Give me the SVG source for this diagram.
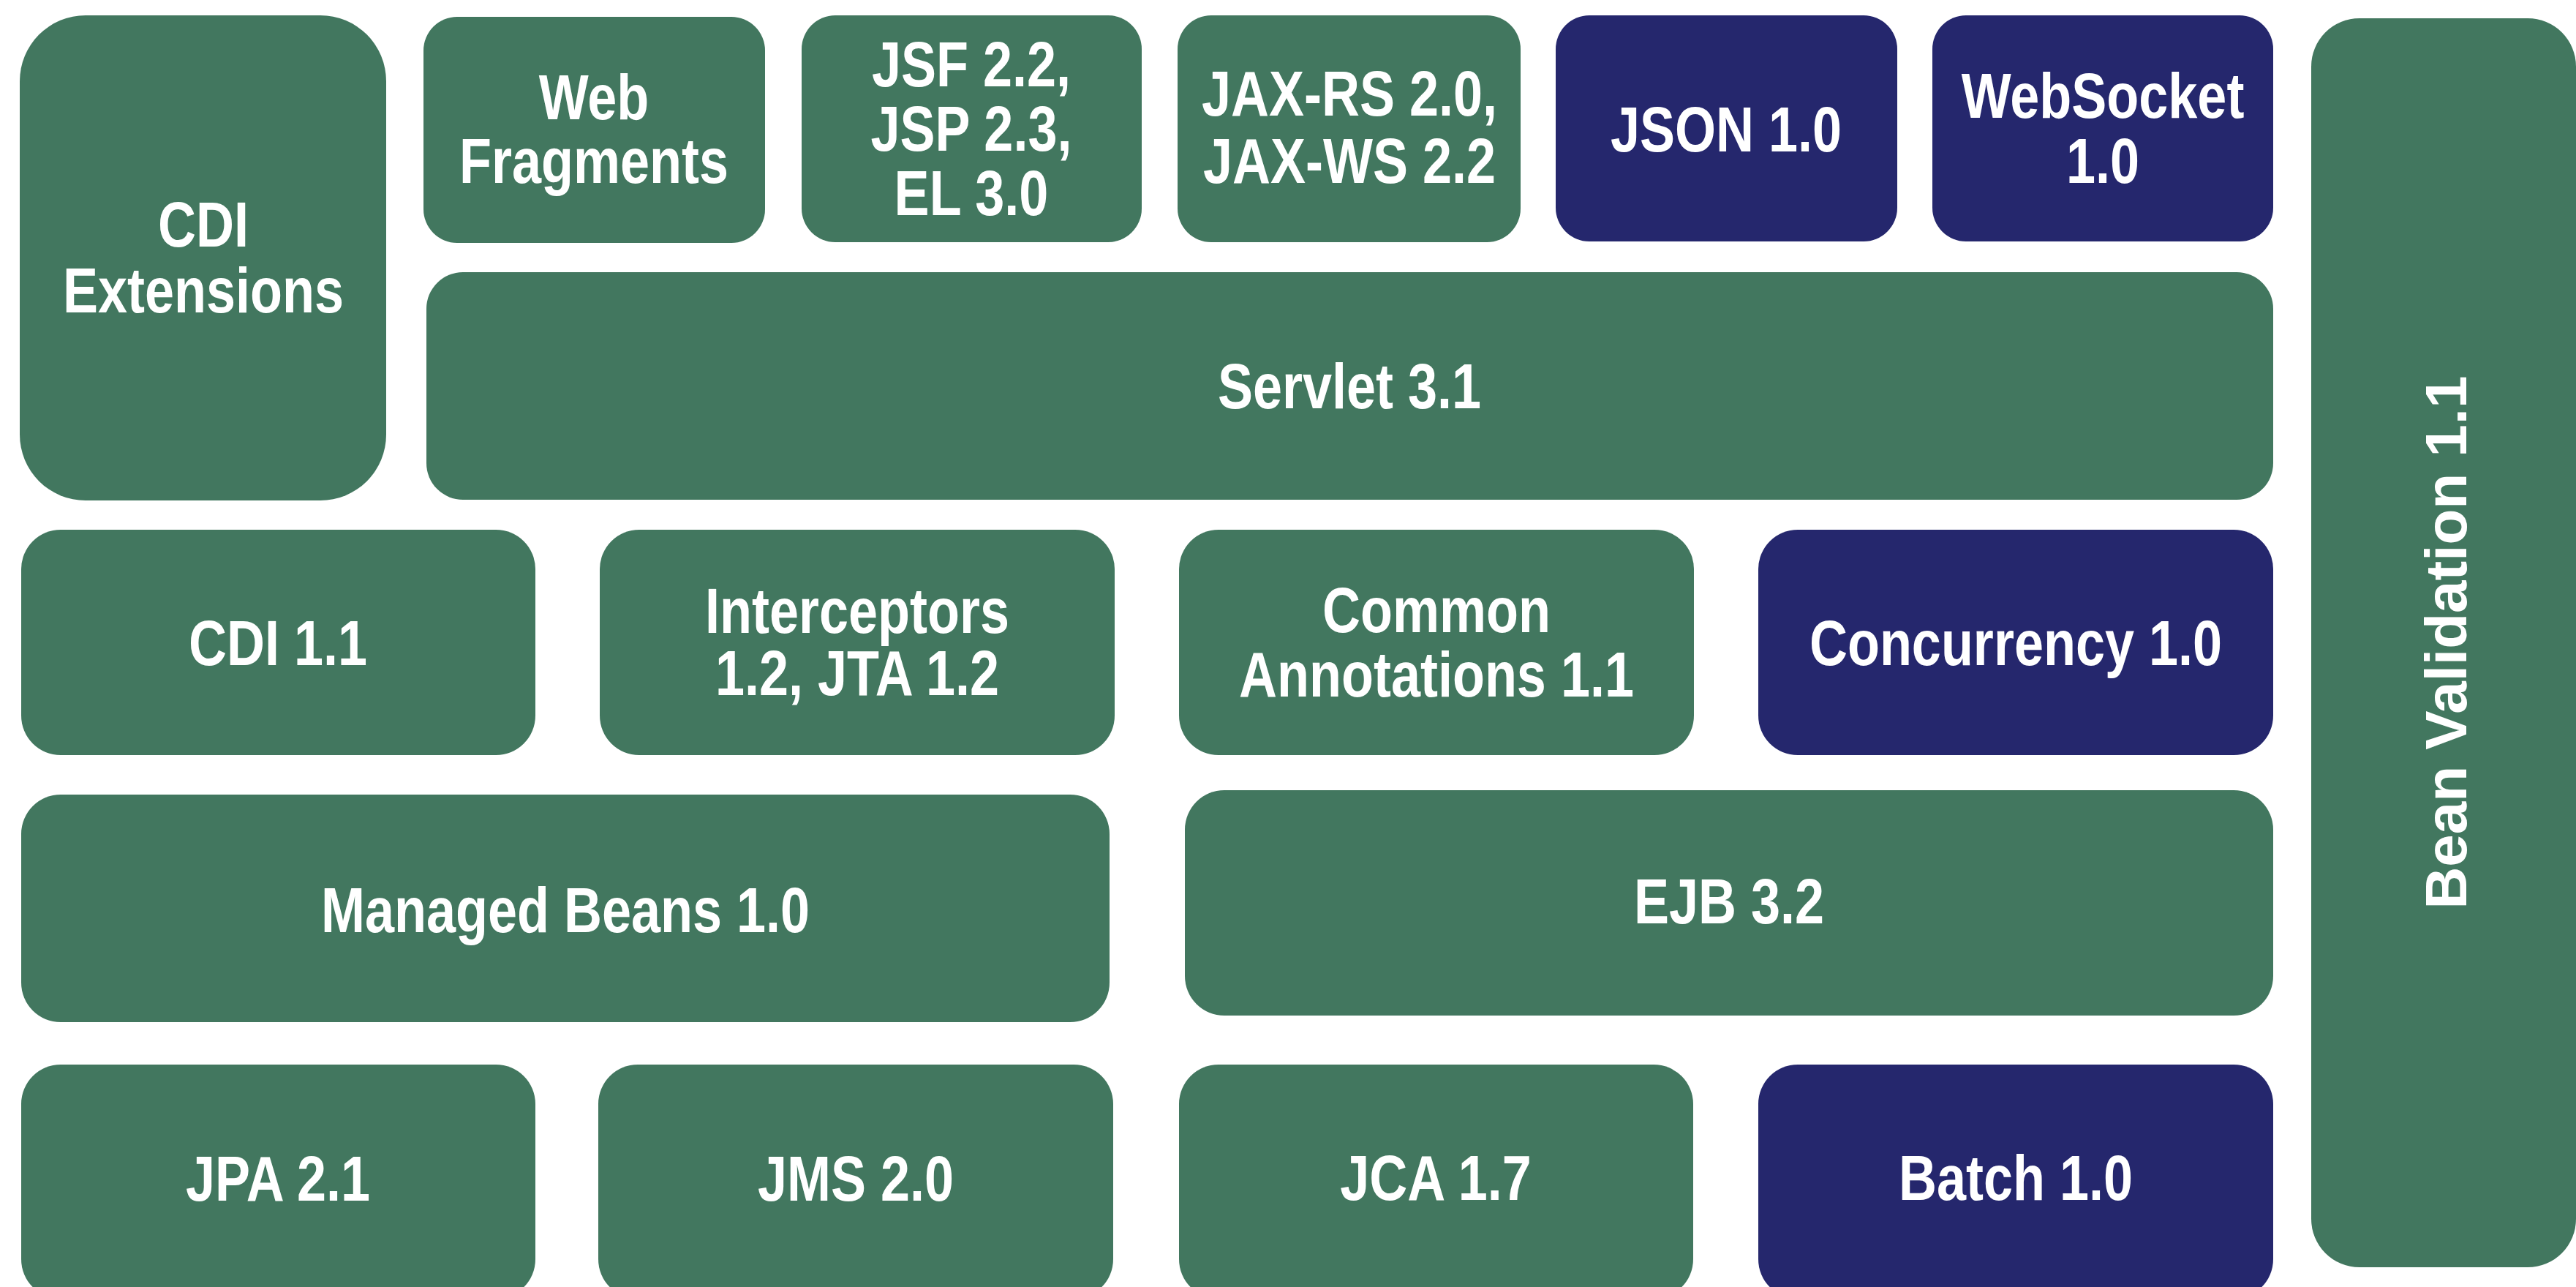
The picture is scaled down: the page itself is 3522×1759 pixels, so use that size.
<svg xmlns="http://www.w3.org/2000/svg" width="3522" height="1759" viewBox="0 0 3522 1759">
<style>
.g{fill:#42775F}
.n{fill:#25276D}
.t{fill:#FFFFFF;font-family:"Liberation Sans",Arial,Helvetica,sans-serif;font-weight:bold;font-size:72px;text-anchor:middle}
.v{fill:#FFFFFF;font-family:"Liberation Sans",Arial,Helvetica,sans-serif;font-weight:bold;font-size:80px;text-anchor:middle}
</style>
<rect x="0" y="0" width="3522" height="1759" fill="#FFFFFF"/>

<g id="cdi-extensions">
<rect class="g" x="27" y="21" width="501" height="663" rx="90" ry="90"/>
<text class="t" transform="translate(278,337) scale(1,1.2)">CDI</text>
<text class="t" transform="translate(278,427) scale(1,1.2)">Extensions</text>
</g>

<g id="web-fragments">
<rect class="g" x="579" y="23" width="467" height="309" rx="46" ry="46"/>
<text class="t" transform="translate(812,163) scale(1,1.2)">Web</text>
<text class="t" transform="translate(812,250) scale(1,1.2)">Fragments</text>
</g>

<g id="jsf-jsp-el">
<rect class="g" x="1096" y="21" width="465" height="310" rx="46" ry="46"/>
<text class="t" transform="translate(1328,118) scale(1,1.2)">JSF 2.2,</text>
<text class="t" transform="translate(1328,206) scale(1,1.2)">JSP 2.3,</text>
<text class="t" transform="translate(1328,294) scale(1,1.2)">EL 3.0</text>
</g>

<g id="jax-rs-ws">
<rect class="g" x="1610" y="21" width="469" height="310" rx="46" ry="46"/>
<text class="t" transform="translate(1845,158) scale(1,1.2)">JAX-RS 2.0,</text>
<text class="t" transform="translate(1845,250) scale(1,1.2)">JAX-WS 2.2</text>
</g>

<g id="json">
<rect class="n" x="2127" y="21" width="467" height="309" rx="46" ry="46"/>
<text class="t" transform="translate(2360,207) scale(1,1.2)">JSON 1.0</text>
</g>

<g id="websocket">
<rect class="n" x="2642" y="21" width="466" height="309" rx="46" ry="46"/>
<text class="t" transform="translate(2875,161) scale(1,1.2)">WebSocket</text>
<text class="t" transform="translate(2875,250) scale(1,1.2)">1.0</text>
</g>

<g id="servlet">
<rect class="g" x="583" y="372" width="2525" height="311" rx="50" ry="50"/>
<text class="t" transform="translate(1845,558) scale(1,1.2)">Servlet 3.1</text>
</g>

<g id="bean-validation">
<rect class="g" x="3160" y="25" width="362" height="1707" rx="66" ry="66"/>
<text class="v" transform="translate(3372,878) rotate(-90)">Bean Validation 1.1</text>
</g>

<g id="cdi">
<rect class="g" x="29" y="724" width="703" height="308" rx="54" ry="54"/>
<text class="t" transform="translate(380,909) scale(1,1.2)">CDI 1.1</text>
</g>

<g id="interceptors-jta">
<rect class="g" x="820" y="724" width="704" height="308" rx="54" ry="54"/>
<text class="t" transform="translate(1172,865) scale(1,1.2)">Interceptors</text>
<text class="t" transform="translate(1172,950) scale(1,1.2)">1.2, JTA 1.2</text>
</g>

<g id="common-annotations">
<rect class="g" x="1612" y="724" width="704" height="308" rx="54" ry="54"/>
<text class="t" transform="translate(1964,864) scale(1,1.2)">Common</text>
<text class="t" transform="translate(1964,952) scale(1,1.2)">Annotations 1.1</text>
</g>

<g id="concurrency">
<rect class="n" x="2404" y="724" width="704" height="308" rx="54" ry="54"/>
<text class="t" transform="translate(2756,909) scale(1,1.2)">Concurrency 1.0</text>
</g>

<g id="managed-beans">
<rect class="g" x="29" y="1086" width="1488" height="311" rx="54" ry="54"/>
<text class="t" transform="translate(773,1274) scale(1,1.2)">Managed Beans 1.0</text>
</g>

<g id="ejb">
<rect class="g" x="1620" y="1080" width="1488" height="308" rx="54" ry="54"/>
<text class="t" transform="translate(2364,1262) scale(1,1.2)">EJB 3.2</text>
</g>

<g id="jpa">
<rect class="g" x="29" y="1455" width="703" height="320" rx="54" ry="54"/>
<text class="t" transform="translate(380,1641) scale(1,1.2)">JPA 2.1</text>
</g>

<g id="jms">
<rect class="g" x="818" y="1455" width="704" height="320" rx="54" ry="54"/>
<text class="t" transform="translate(1170,1641) scale(1,1.2)">JMS 2.0</text>
</g>

<g id="jca">
<rect class="g" x="1612" y="1455" width="703" height="320" rx="54" ry="54"/>
<text class="t" transform="translate(1963,1640) scale(1,1.2)">JCA 1.7</text>
</g>

<g id="batch">
<rect class="n" x="2404" y="1455" width="704" height="320" rx="54" ry="54"/>
<text class="t" transform="translate(2756,1640) scale(1,1.2)">Batch 1.0</text>
</g>
</svg>
